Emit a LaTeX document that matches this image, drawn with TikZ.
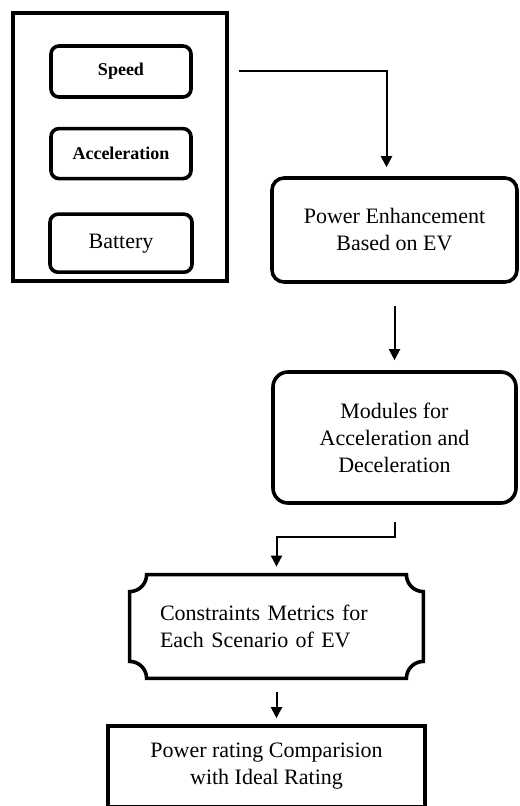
\documentclass[tikz,border=0pt]{standalone}
\usepackage{fontspec}
\setmainfont{Liberation Serif}
\usetikzlibrary{positioning,arrows.meta}

\begin{document}
\begin{tikzpicture}[
		x=0.5pt, y=-0.5pt
		,every node/.append style={font=\fontsize{11}{13.5}\selectfont, align=center}
		,frame/.style={draw, line width=1.8pt}
		,rbox/.style={frame, rounded corners=#1}
		,small/.style={font=\fontsize{9}{11}\selectfont\bfseries}
		,arr/.style={-{Triangle[length=5.5pt,width=5.5pt]}, line width=1pt}
	]
	\useasboundingbox (0,0) rectangle (519,806);

	% inputs
	\node [frame, minimum width=107pt, minimum height=134pt] (group) at (120,147) {};
	\node [rbox=4pt, small, minimum width=70pt, minimum height=25.5pt] (speed) at (121,71.5) {Speed};
	\node [rbox=4pt, small, minimum width=70pt, minimum height=25pt, below=14pt of speed] (accel) {Acceleration};
	\node [rbox=4pt, minimum width=71pt, minimum height=29pt, below=16pt of accel] (battery) {Battery};

	% chain
	\node [rbox=6pt, minimum width=122.5pt, minimum height=52pt] (power) at (394.5,230) {Power Enhancement\\Based on EV};
	\node [rbox=7.5pt, minimum width=121.5pt, minimum height=65.5pt] (modules) at (394.5,437.5) {Modules for\\Acceleration and\\Deceleration};
	\node [minimum width=146.5pt, minimum height=51.5pt, text width=116.5pt, inner xsep=15pt, align=left] (metrics) at (276.5,626.5) {Constraints Metrics for\\Each Scenario of EV};
	\draw [frame] ([xshift=8.5pt]metrics.north west) -- ([xshift=-8.5pt]metrics.north east)
		arc [start angle=180, end angle=270, radius=8.5pt] -- ([yshift=8.5pt]metrics.south east)
		arc [start angle=90, end angle=180, radius=8.5pt] -- ([xshift=8.5pt]metrics.south west)
		arc [start angle=0, end angle=90, radius=8.5pt] -- ([yshift=-8.5pt]metrics.north west)
		arc [start angle=270, end angle=360, radius=8.5pt] -- cycle;
	\node [frame, minimum width=158.5pt, minimum height=40.5pt] (rating) at (266.5,766.5) {Power rating Comparision\\with Ideal Rating};

	% arrows
	\coordinate (bend) at (335,537);
	\draw [arr, shorten >=4.5pt] ([xshift=5pt]group.east |- speed.east) -| ([xshift=-4pt]power.north);
	\draw [arr, shorten <=11pt, shorten >=5pt] (power) -- (modules);
	\draw [arr, shorten <=8.5pt, shorten >=4pt] (modules.south) |- (bend) -| (metrics.north);
	\draw [arr, shorten <=7pt, shorten >=3pt] (metrics.south) -- (metrics.south |- rating.north);
\end{tikzpicture}
\end{document}
